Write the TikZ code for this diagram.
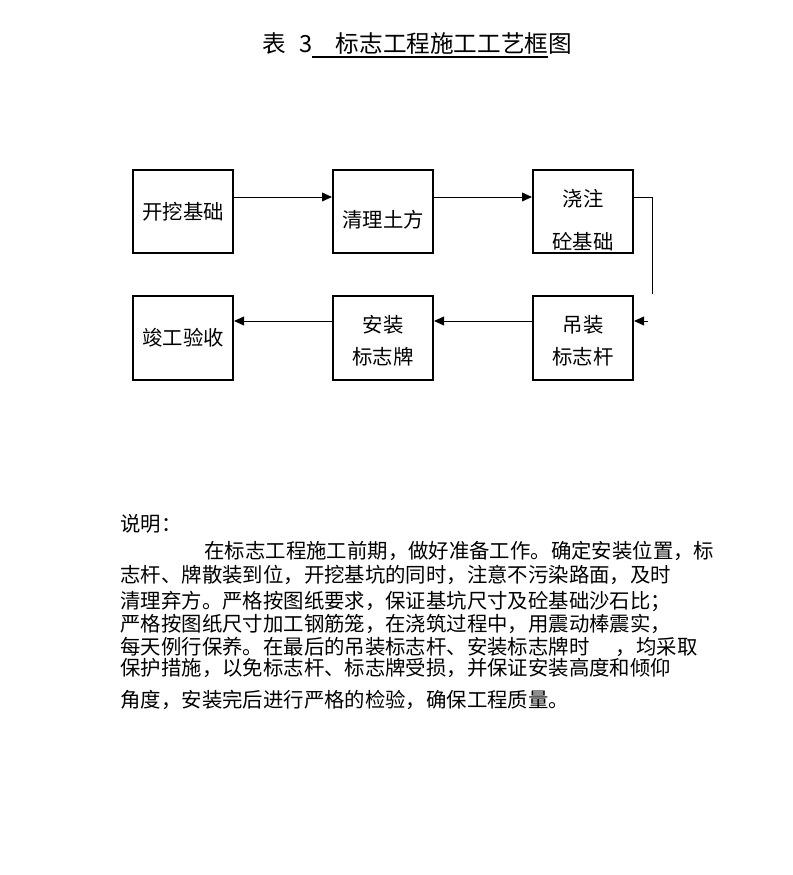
\documentclass[tikz,border=0pt]{standalone}
\usepackage{fontspec}
\newfontfamily\cjk{Noto Sans CJK SC}
\usetikzlibrary{arrows.meta, positioning}
\newcommand{\shiftdown}[2]{\raisebox{-#1}[\height][\depth]{#2}}
\newcommand{\thickul}[1]{\setbox0\hbox{#1}\rlap{\rule[-0.22em]{\wd0}{1.3pt}}\box0}

\begin{document}
\begin{tikzpicture}[x=0.025cm, y=-0.025cm, line width=0.7pt, font=\cjk,
    stepbox/.style={draw, line width=1.4pt, minimum width=2.5cm, minimum height=2.08cm,
        inner sep=0pt, align=center, font=\cjk\fontsize{14.5pt}{0.8cm}\selectfont},
    flow/.style={-{Triangle[length=2.5mm, width=2.2mm]}},
    note/.style={anchor=west, inner sep=0pt, font=\cjk\fontsize{14.5pt}{17pt}\selectfont}]
    \useasboundingbox (0,0) rectangle (792,875);

    % 标题
    \node[anchor=west, inner sep=0pt, font=\cjk\fontsize{16.8pt}{20pt}\selectfont] (title) at (262,45)
        {表\hspace{0.55em}3\thickul{\hspace{1em}标志工程施工工艺框}图};

    % 第一行
    \node[stepbox] (kaiwa) at (183,211.5) {开挖基础};
    \node[stepbox] (qingli) at (383,211.5) {\shiftdown{0.21cm}{清理土方}};
    \node[stepbox] (jiaozhu) at (583,211.5) {\shiftdown{0.225cm}{浇注}\\[0.275cm]\shiftdown{0.225cm}{砼基础}};

    % 第二行
    \node[stepbox] (jungong) at (183,338) {竣工验收};
    \node[stepbox] (anzhuang) at (383,338) {\shiftdown{0.075cm}{安装}\\\shiftdown{0.075cm}{标志牌}};
    \node[stepbox] (diaozhuang) at (583,338) {\shiftdown{0.075cm}{吊装}\\\shiftdown{0.075cm}{标志杆}};

    % 连线
    \coordinate (toprow) at (0,197);
    \coordinate (botrow) at (0,321);
    \coordinate (turn) at (652,197);
    \coordinate (drop) at (652,294);
    \coordinate (feed) at (648,321);
    \draw[flow] (kaiwa.east |- toprow) -- (qingli.west |- toprow);
    \draw[flow] (qingli.east |- toprow) -- (jiaozhu.west |- toprow);
    \draw (jiaozhu.east |- toprow) -- (turn) -- (drop);
    \draw[flow] (feed) -- (diaozhuang.east |- botrow);
    \draw[flow] (diaozhuang.west |- botrow) -- (anzhuang.east |- botrow);
    \draw[flow] (anzhuang.west |- botrow) -- (jungong.east |- botrow);

    % 说明
    \node[note] (shuoming) at (120,524) {说明：};
    \node[note] (line1) at (204,551) {在标志工程施工前期，做好准备工作。确定安装位置，标};
    \node[note] (line2) at (120,575) {志杆、牌散装到位，开挖基坑的同时，注意不污染路面，及时};
    \node[note] (line3) at (120,601) {清理弃方。严格按图纸要求，保证基坑尺寸及砼基础沙石比；};
    \node[note] (line4) at (120,624) {严格按图纸尺寸加工钢筋笼，在浇筑过程中，用震动棒震实，};
    \node[note] (line5) at (120,647) {每天例行保养。在最后的吊装标志杆、安装标志牌时\hspace{1.3em}，均采取};
    \node[note] (line6) at (120,668) {保护措施，以免标志杆、标志牌受损，并保证安装高度和倾仰};
    \node[note] (line7) at (120,700) {角度，安装完后进行严格的检验，确保工程质量。};
\end{tikzpicture}
\end{document}
